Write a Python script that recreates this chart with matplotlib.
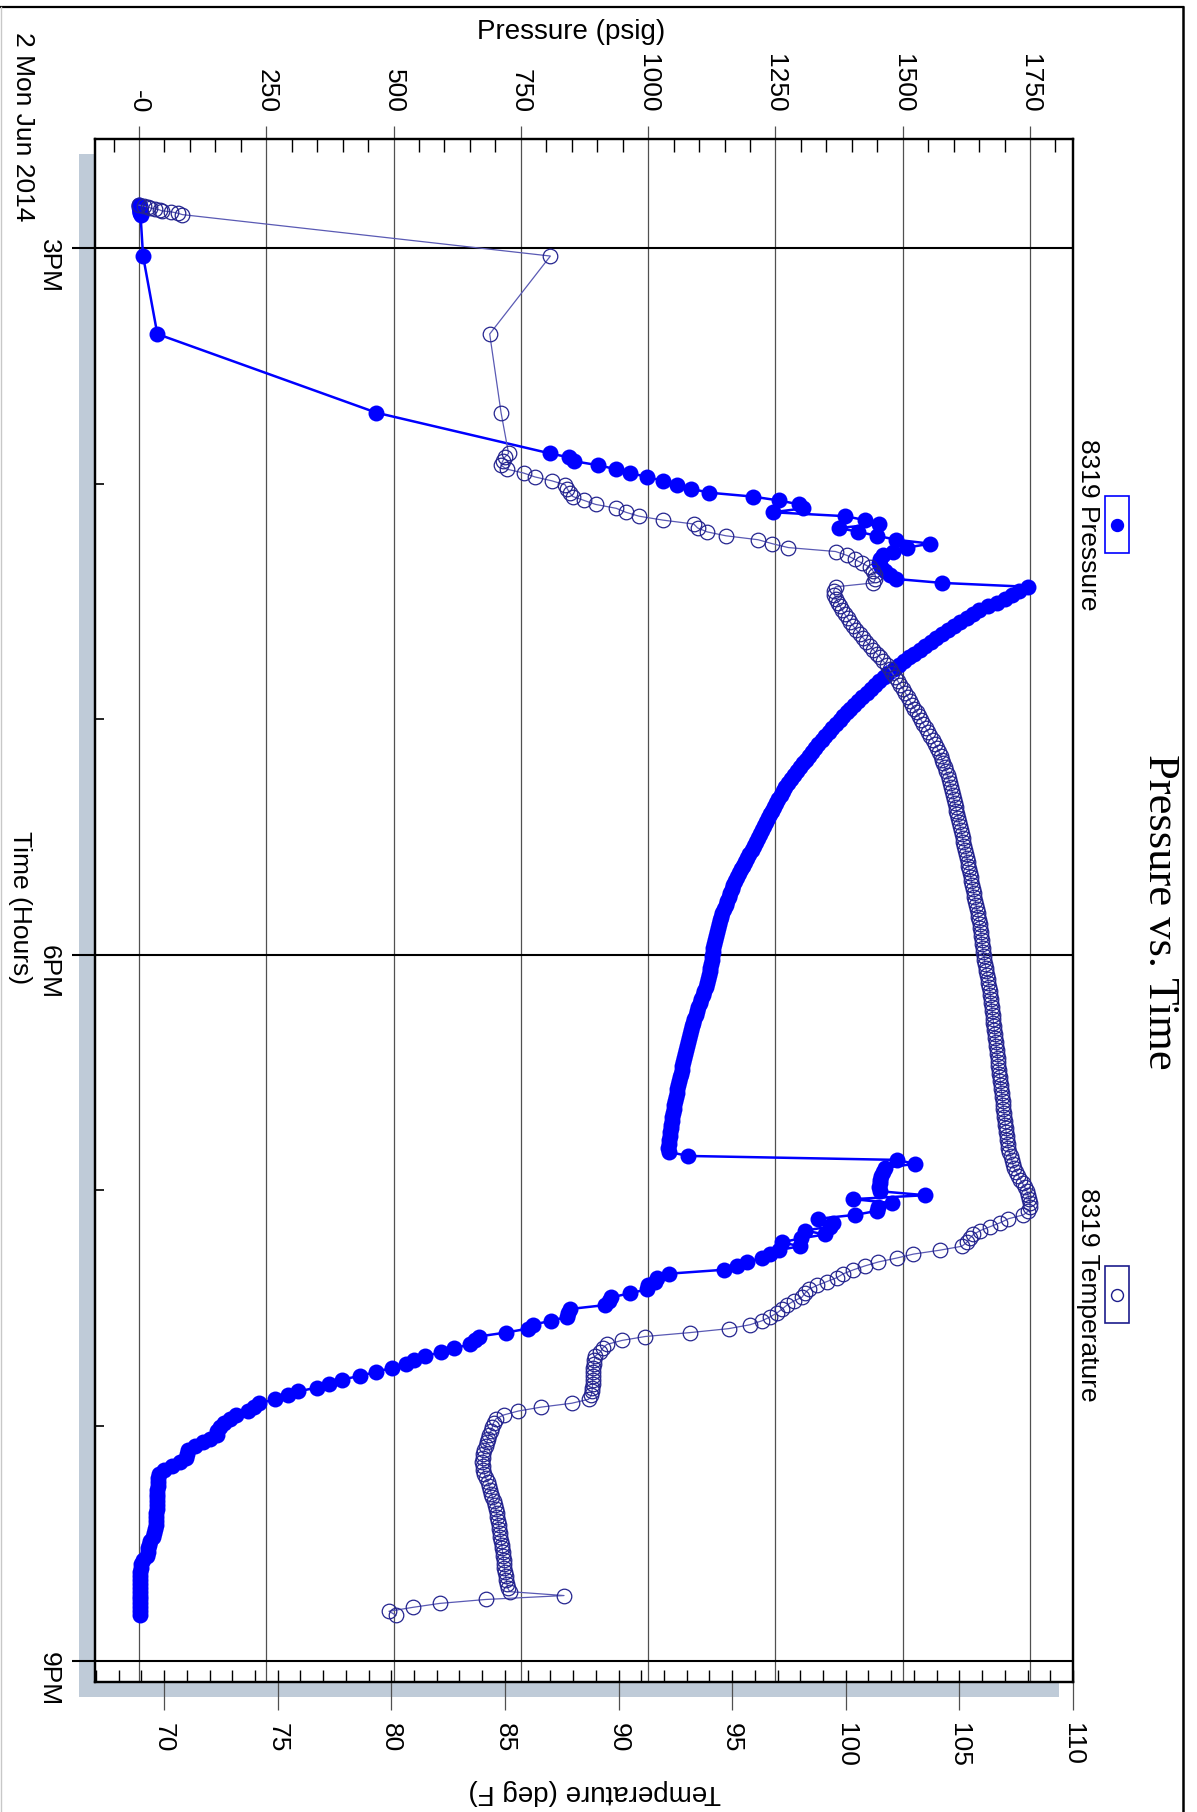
import numpy as np
import pandas as pd
import matplotlib
matplotlib.use("Agg")
import matplotlib.pyplot as plt
from matplotlib.patches import Rectangle
from matplotlib.lines import Line2D
from matplotlib.ticker import FixedLocator, MultipleLocator

plt.rcParams['font.family'] = ['Liberation Sans', 'DejaVu Sans']

# readings taken before the logger went to one sample per minute (clock hours)
pre_log_hours = [14.818, 14.822, 14.826, 14.830, 14.834, 14.838, 14.842, 14.846,
                 14.852, 14.858, 15.034, 15.365, 15.699]
pre_log_pressure = [0, 1, 0, 1, 2, 1, 2, 1, 2, 3, 8, 36, 466]
pre_log_temperature = [68.9, 69.1, 69.3, 69.4, 69.6, 69.8, 69.9, 70.3, 70.6, 70.8,
                       87.0, 84.33, 84.83]

# one-minute log, sensor 8319
log_start = '2014-06-02 15:52:19'
log_pressure = [
    807, 844, 855, 901, 936, 965, 997, 1030, 1056, 1084,
    1119, 1205, 1257, 1297, 1305, 1245, 1387, 1426, 1454, 1375,
    1413, 1450, 1487, 1554, 1509, 1480, 1462, 1455, 1454, 1457,
    1466, 1475, 1487, 1577, 1747, 1728, 1715, 1700, 1685, 1668,
    1650, 1638, 1626, 1613, 1601, 1589, 1577, 1566, 1555, 1544,
    1533, 1522, 1512, 1502, 1492, 1482, 1472, 1463, 1454, 1446,
    1438, 1429, 1420, 1412, 1404, 1397, 1390, 1383, 1376, 1369,
    1362, 1355, 1348, 1341, 1334, 1328, 1322, 1316, 1310, 1304,
    1298, 1292, 1286, 1280, 1274, 1269, 1264, 1260, 1255, 1251,
    1247, 1243, 1239, 1235, 1231, 1227, 1223, 1219, 1215, 1211,
    1207, 1203, 1199, 1195, 1191, 1187, 1183, 1179, 1175, 1171,
    1167, 1164, 1161, 1158, 1155, 1152, 1149, 1146, 1143, 1141,
    1139, 1137, 1135, 1133, 1131, 1129, 1128, 1127, 1126, 1125,
    1124, 1122, 1121, 1120, 1118, 1116, 1113, 1110, 1107, 1104,
    1101, 1098, 1095, 1093, 1091, 1089, 1087, 1085, 1083, 1081,
    1079, 1077, 1075, 1073, 1071, 1069, 1067, 1066, 1064, 1062,
    1061, 1059, 1057, 1056, 1054, 1053, 1051, 1050, 1049, 1047,
    1046, 1045, 1044, 1043, 1042, 1041, 1040, 1039, 1041, 1079,
    1488, 1524, 1466, 1462, 1458, 1456, 1455, 1454, 1456, 1544,
    1403, 1478, 1452, 1449, 1407, 1334, 1364, 1358, 1308, 1347,
    1300, 1262, 1298, 1256, 1240, 1223, 1194, 1174, 1148, 1040,
    1017, 1013, 1000, 997, 964, 928, 923, 915, 846, 843,
    840, 809, 773, 764, 720, 667, 660, 651, 618, 594,
    561, 540, 524, 496, 466, 435, 398, 374, 349, 313,
    292, 268, 235, 225, 215, 191, 178, 166, 160, 154,
    154, 140, 125, 110, 97, 95, 93, 80, 64, 50,
    40, 38, 37, 37, 36, 36, 36, 35, 35, 35,
    34, 34, 33, 33, 32, 30, 27, 22, 19, 18,
    17, 15, 7, 3, 3, 2, 2, 2, 2, 1,
    1, 1, 1, 1, 1, 1, 1,
]
log_temperature = [
    85.16, 84.99, 84.9, 84.82, 85.07, 85.82, 86.32, 87.07, 87.65, 87.74,
    87.85, 87.99, 88.49, 88.99, 89.9, 90.32, 90.9, 91.95, 93.31, 93.48,
    93.9, 94.73, 96.14, 96.76, 97.47, 99.55, 100.06, 100.39, 100.72, 101.06,
    101.2, 101.3, 101.3, 101.22, 99.55,
    99.47, 99.5, 99.58, 99.66, 99.75, 99.85, 99.96, 100.08, 100.2, 100.33,
    100.47, 100.61, 100.76, 100.91, 101.06, 101.21, 101.36, 101.51, 101.66, 101.8,
    101.93, 102.05, 102.17, 102.29, 102.4, 102.51, 102.62, 102.72, 102.82, 102.92,
    103.02, 103.12, 103.22, 103.32, 103.42, 103.52, 103.62, 103.72, 103.82, 103.92,
    104.02, 104.1, 104.17, 104.24, 104.3, 104.36, 104.42, 104.48, 104.53, 104.58,
    104.63, 104.67, 104.71, 104.75, 104.79, 104.83, 104.87, 104.91, 104.95, 104.99,
    105.03, 105.06, 105.1, 105.14, 105.18, 105.22, 105.26, 105.3, 105.33, 105.36,
    105.4, 105.43, 105.46, 105.5, 105.53, 105.56, 105.6, 105.63, 105.66, 105.7,
    105.73, 105.76, 105.8, 105.83, 105.86, 105.89, 105.92, 105.94, 105.96, 105.98,
    106.0, 106.02, 106.05, 106.08, 106.1, 106.13, 106.16, 106.19, 106.22, 106.25,
    106.28, 106.31, 106.34, 106.36, 106.38, 106.4, 106.42, 106.44, 106.46, 106.48,
    106.5, 106.52, 106.54, 106.56, 106.58, 106.6, 106.62, 106.64, 106.66, 106.68,
    106.7, 106.72, 106.74, 106.76, 106.78, 106.8, 106.82, 106.84, 106.86, 106.88,
    106.9, 106.92, 106.94, 106.96, 106.98, 107.0, 107.02, 107.04, 107.06, 107.08,
    107.1, 107.12, 107.15, 107.2, 107.25, 107.3, 107.35, 107.4, 107.5, 107.6,
    107.68, 107.78, 107.88, 107.97, 108.02, 108.07, 108.1, 108.12, 108.04, 107.82,
    107.16, 106.8, 106.36, 105.92, 105.62, 105.45, 105.33, 105.11, 104.15, 102.98,
    102.25, 101.44, 100.85, 100.34, 99.9, 99.61, 99.17, 98.73, 98.36, 98.2,
    98.07, 97.7, 97.41, 97.2, 96.97, 96.67, 96.31, 95.79, 94.84, 93.15,
    91.17, 90.15, 89.49, 89.3, 89.19, 88.97, 88.93, 88.9, 88.88, 88.88,
    88.87, 88.86, 88.86, 88.85, 88.83, 88.8, 88.68, 87.94, 86.58, 85.58,
    84.94, 84.6, 84.5, 84.45, 84.4, 84.3, 84.25, 84.2, 84.15, 84.1,
    84.05, 84.02, 84.0, 84.02, 84.05, 84.1, 84.15, 84.25, 84.3, 84.35,
    84.4, 84.45, 84.5, 84.55, 84.6, 84.63, 84.66, 84.69, 84.72, 84.75,
    84.78, 84.8, 84.83, 84.86, 84.88, 84.9, 84.92, 84.94, 84.96, 84.98,
    85.0, 85.03, 85.06, 85.09, 85.12, 85.21, 87.6, 84.15, 82.13, 80.95,
    79.9, 80.2,
]

pressure_ticks = [0, 250, 500, 750, 1000, 1250, 1500, 1750]
pressure_labels = ['-0', '250', '500', '750', '1000', '1250', '1500', '1750']
temperature_ticks = [70, 75, 80, 85, 90, 95, 100, 105, 110]
hour_ticks = [15, 18, 21]
hour_labels = ['3PM', '6PM', '9PM']

stamps = pd.date_range(log_start, periods=len(log_pressure), freq='min')
log_hours = list((stamps - stamps.normalize()) / pd.Timedelta(hours=1))
hours = np.array(pre_log_hours + log_hours)
pressure = np.array(pre_log_pressure + log_pressure, dtype=float)
temperature = np.array(pre_log_temperature + log_temperature, dtype=float)

W, H = 1197, 1812


def fx(px):
    return px / W


def fy(py):
    return 1 - py / H


fig = plt.figure(figsize=(W / 100, H / 100), dpi=100)

# drop shadow behind the plot frame
fig.add_artist(Rectangle((fx(79), fy(1697)), fx(1059) - fx(79), fy(154) - fy(1697),
                         transform=fig.transFigure, fc='#BFCBD8', ec='none', zorder=-1))

ax = fig.add_axes([fx(95), fy(1682), fx(1073) - fx(95), fy(139) - fy(1682)])
ax2 = ax.twiny()

# pressure on the top axis
ax.set_xlim(-86.4, 1834.4)
ax.set_ylim(21.089, 14.537)
ax.xaxis.tick_top()
ax.xaxis.set_major_locator(FixedLocator(pressure_ticks))
ax.set_xticklabels(pressure_labels)
ax.xaxis.set_minor_locator(MultipleLocator(50))
ax.tick_params(axis='x', which='major', direction='out', length=9.4, width=0.9,
               color='#505050', pad=9.4, labelsize=19, labelrotation=-90)
ax.tick_params(axis='x', which='minor', direction='in', length=9.4, width=1.0,
               color='black')

# time of day down the side
ax.set_yticks(hour_ticks)
ax.set_yticklabels(hour_labels)
ax.yaxis.set_minor_locator(FixedLocator([16, 17, 19, 20]))
ax.tick_params(axis='y', which='major', direction='out', length=16.6, width=1.5,
               color='black', pad=8, labelsize=19, labelrotation=-90)
ax.tick_params(axis='y', which='minor', direction='in', length=6.5, width=1.2)

ax.grid(True, axis='x', which='major', color='#505050', lw=0.9)
ax.grid(True, axis='y', which='major', color='black', lw=1.5)

# temperature on the bottom axis
ax2.set_xlim(66.96, 110)
ax2.xaxis.tick_bottom()
ax2.xaxis.remove_overlapping_locs = False
ax2.xaxis.set_major_locator(FixedLocator(temperature_ticks))
ax2.xaxis.set_minor_locator(MultipleLocator(1))
ax2.tick_params(axis='x', which='major', direction='out', length=20, width=0.9,
                color='#505050', pad=9.4, labelsize=19, labelrotation=-90)
ax2.tick_params(axis='x', which='minor', direction='in', length=8.6, width=1.0,
                color='black')

for a in (ax, ax2):
    for s in a.spines.values():
        s.set_linewidth(1.6)
        s.set_color('black')

ax.plot(pressure, hours, '-o', color='#0000FF', lw=1.8, ms=11.5, mew=0)
ax2.plot(temperature, hours, '-o', color='#5A5AB4', lw=0.9, ms=10.5,
         mfc='none', mec='#24248F', mew=0.9)

# titles and axis captions
fig.text(fx(1160), fy(912), 'Pressure vs. Time', rotation=-90, ha='center', va='center',
         fontsize=32, family=['Liberation Serif', 'DejaVu Serif'])
fig.text(fx(571), fy(32), 'Pressure (psig)', ha='center', va='center', fontsize=20)
fig.text(fx(595), fy(1792), 'Temperature (deg F)', rotation=180, ha='center',
         va='center', fontsize=20)
fig.text(fx(20), fy(908), 'Time (Hours)', rotation=-90, ha='center', va='center',
         fontsize=19)
fig.text(fx(23), fy(32), '2 Mon Jun 2014', rotation=-90, ha='center', va='top',
         fontsize=19)

# legend entries
legend_items = [
    ('8319 Pressure', 525, '#0000FF', '#0000FF', 'o'),
    ('8319 Temperature', 1295, '#1C1C8C', 'none', 'o'),
]
for label, cy, edge, face, mk in legend_items:
    fig.add_artist(Rectangle((fx(1105), fy(cy + 28)), fx(24), fy(0) - fy(57),
                             transform=fig.transFigure, fc='white', ec=edge, lw=1.2))
    fig.add_artist(Line2D([fx(1117)], [fy(cy)], transform=fig.transFigure, marker=mk,
                          ms=8.6, mfc=face, mec=edge, mew=1.0, ls='none'))
    fig.text(fx(1088), fy(cy), label, rotation=-90, ha='center', va='center', fontsize=19)

# page border
fig.add_artist(Line2D([0, fx(1183)], [fy(7), fy(7)], transform=fig.transFigure,
                      color='black', lw=1.6))
fig.add_artist(Line2D([fx(1183), fx(1183)], [fy(7), 0], transform=fig.transFigure,
                      color='black', lw=1.8))
fig.add_artist(Line2D([fx(0.6), fx(0.6)], [fy(7), 0], transform=fig.transFigure,
                      color='#C8C8C8', lw=1.0))

fig.savefig('out.png', dpi=100)
